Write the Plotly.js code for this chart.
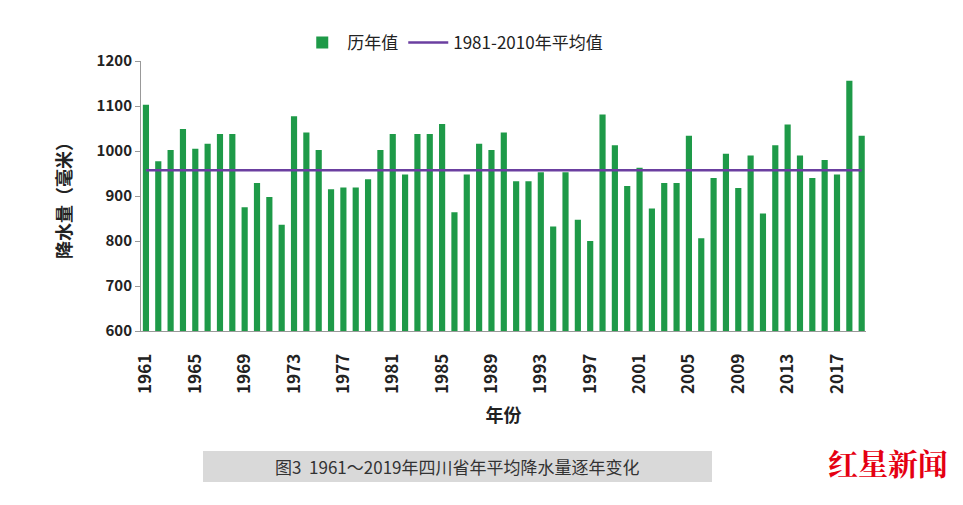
<!DOCTYPE html>
<html>
<head>
<meta charset="utf-8">
<script src="https://cdn.plot.ly/plotly-3.0.1.min.js"></script>
<style>html,body{margin:0;padding:0;background:#fff;}#chart{width:963px;height:505px;}</style>
</head>
<body>
<div id="chart"></div>
<script>
const years = [1961,1962,1963,1964,1965,1966,1967,1968,1969,1970,
  1971,1972,1973,1974,1975,1976,1977,1978,1979,1980,
  1981,1982,1983,1984,1985,1986,1987,1988,1989,1990,
  1991,1992,1993,1994,1995,1996,1997,1998,1999,2000,
  2001,2002,2003,2004,2005,2006,2007,2008,2009,2010,
  2011,2012,2013,2014,2015,2016,2017,2018,2019];
const precip = [1103,977,1002,1049,1005,1016,1038,1038,875,929,
  898,836,1077,1041,1002,915,919,919,937,1002,
  1038,948,1038,1038,1060,864,948,1016,1002,1041,
  933,933,953,832,953,847,800,1081,1013,922,
  963,872,929,929,1034,806,940,994,918,990,
  861,1013,1059,990,940,980,948,1156,1034];
const meanYears = [1961, 2019];
const meanValue = [957, 957];
const tickYears = [1961,1965,1969,1973,1977,1981,1985,1989,1993,1997,2001,2005,2009,2013,2017];
const yTicks = [600,700,800,900,1000,1100,1200];

const cjk = '"Noto Sans CJK SC", "Noto Sans", sans-serif';

const traces = [
  {type:'bar', x: years, y: precip, name:'历年值', marker:{color:'#1e9a48'}},
  {type:'scatter', mode:'lines', x: meanYears, y: meanValue, name:'1981-2010年平均值', line:{color:'#6b3fa0', width:2.5}}
];

const layout = {
  width:963, height:505,
  margin:{l:141, r:97, t:61, b:174},
  paper_bgcolor:'#fff', plot_bgcolor:'#fff',
  bargap:0.5,
  showlegend:true,
  legend:{orientation:'h', x:0.43, xanchor:'center', y:1.0, yanchor:'bottom', font:{family:cjk, size:17, color:'#222'}, itemwidth:40},
  xaxis:{range:[1960.6,2019.35], tickvals:tickYears, ticktext:tickYears.map(String), tickangle:-90,
    showgrid:false, zeroline:false, showline:true, linecolor:'#999', linewidth:1,
    ticks:'outside', ticklen:15, tickcolor:'rgba(0,0,0,0)',
    tickfont:{family:cjk, size:17, color:'#222', weight:'bold'},
    title:{text:'年份', font:{family:cjk, size:18, color:'#222', weight:'bold'}, standoff:16}},
  yaxis:{range:[600,1200], tickvals:yTicks, showgrid:false, zeroline:false, showline:true, linecolor:'#999', linewidth:1,
    ticks:'outside', ticklen:5, tickcolor:'#999',
    tickfont:{family:cjk, size:15, color:'#222', weight:'bold'},
    title:{text:'降水量（毫米）', font:{family:cjk, size:18, color:'#222', weight:'bold'}, standoff:20}},
  shapes:[
    {type:'rect', xref:'paper', yref:'paper', x0:0.0855, x1:0.7876, y0:-0.559, y1:-0.444, fillcolor:'#d9d9d9', line:{width:0}, layer:'below'}
  ],
  annotations:[
    {xref:'paper', yref:'paper', x:0.436, y:-0.5015, text:'图3  1961～2019年四川省年平均降水量逐年变化', showarrow:false,
      font:{family:cjk, size:17, color:'#333'}, xanchor:'center', yanchor:'middle'},
    {xref:'paper', yref:'paper', x:1.116, y:-0.485, text:'<b>红星新闻</b>', showarrow:false,
      font:{family:'"Noto Serif CJK SC", "Noto Sans CJK SC", serif', size:30, color:'#e50012'}, xanchor:'right', yanchor:'middle'}
  ]
};

Plotly.newPlot('chart', traces, layout, {displayModeBar:false, staticPlot:true});
</script>
</body>
</html>
